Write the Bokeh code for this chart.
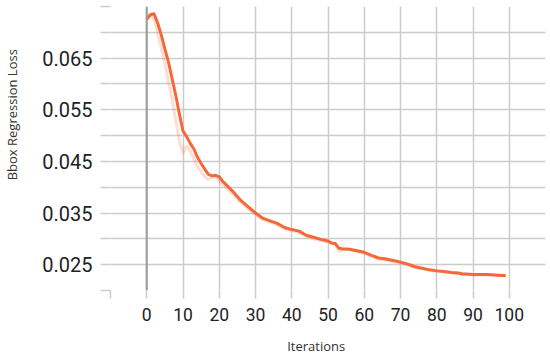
from bokeh.plotting import figure
from bokeh.models import Span, FixedTicker, Range1d
from bokeh.embed import file_html
from bokeh.resources import INLINE

# Smoothed loss curve
iters = [0, 1, 2, 3, 4, 5, 6, 7, 8, 9, 10, 11, 12, 13, 14, 15, 16, 17, 18, 19, 20,
         21, 22, 24, 26, 28, 30, 32, 34, 36, 38, 40, 42, 44, 46, 48, 50, 51, 52, 53,
         54, 56, 58, 60, 62, 64, 66, 68, 70, 72, 74, 76, 78, 80, 82, 84, 86, 87, 88,
         90, 92, 94, 96, 98, 99]
loss_smooth = [0.0725, 0.0734, 0.0736, 0.0718, 0.0695, 0.0668, 0.0642, 0.0610, 0.0578,
               0.0542, 0.0509, 0.0498, 0.0485, 0.0474, 0.0458, 0.0446, 0.0435, 0.0425,
               0.0422, 0.0423, 0.0420, 0.0411, 0.0404, 0.0390, 0.0374, 0.0362, 0.0350,
               0.0340, 0.0335, 0.0330, 0.0322, 0.0318, 0.0315, 0.0307, 0.0303, 0.0299,
               0.0296, 0.0292, 0.0291, 0.0282, 0.0281, 0.0280, 0.0277, 0.0274, 0.0268,
               0.0263, 0.0261, 0.0258, 0.0255, 0.0251, 0.0246, 0.0243, 0.0240, 0.0238,
               0.0237, 0.0235, 0.0234, 0.0232, 0.0232, 0.0231, 0.0231, 0.0231, 0.0230,
               0.0229, 0.0229]

# Raw (faint) loss curve
iters_raw = [0, 1, 2, 3, 4, 5, 6, 7, 8, 9, 10, 11, 12, 13, 14, 15, 16, 17, 18, 19, 20,
             22, 24, 26, 28, 30, 32, 34, 36, 38, 40, 42, 44, 46, 48, 50, 52, 53, 54, 56,
             58, 60, 62, 64, 66, 68, 70, 74, 78, 82, 86, 90, 94, 98, 99]
loss_raw = [0.0725, 0.0735, 0.0725, 0.0700, 0.0670, 0.0640, 0.0605, 0.0570, 0.0530,
            0.0490, 0.0465, 0.0480, 0.0470, 0.0455, 0.0440, 0.0430, 0.0420, 0.0415,
            0.0418, 0.0420, 0.0412, 0.0398, 0.0385, 0.0370, 0.0358, 0.0347, 0.0337,
            0.0333, 0.0327, 0.0320, 0.0316, 0.0313, 0.0305, 0.0300, 0.0297, 0.0294,
            0.0289, 0.0275, 0.0279, 0.0279, 0.0275, 0.0272, 0.0266, 0.0261, 0.0259,
            0.0256, 0.0253, 0.0245, 0.0239, 0.0236, 0.0233, 0.0230, 0.0230, 0.0229,
            0.0228]

x_ticks = [-10, 0, 10, 20, 30, 40, 50, 60, 70, 80, 90, 100]
x_tick_labels = ["", "0", "10", "20", "30", "40", "50", "60", "70", "80", "90", "100"]
y_ticks = [0.02, 0.025, 0.03, 0.035, 0.04, 0.045, 0.05, 0.055, 0.06, 0.065, 0.07, 0.075]
y_tick_labels = ["", "0.025", "", "0.035", "", "0.045", "", "0.055", "", "0.065", "", ""]

x_title = "Iterations"
y_title = "Bbox Regression Loss"

ORANGE = "#f4683a"
GRID = "#cccccc"
NBSP = "\u00a0"

p = figure(width=550, height=359, output_backend="svg", toolbar_location=None,
           x_range=Range1d(-10, 110), y_range=Range1d(0.020, 0.075),
           min_border_left=110, min_border_right=5, min_border_top=6,
           min_border_bottom=69)
p.outline_line_color = None
p.background_fill_color = "white"
p.border_fill_color = "white"

# grids
p.xgrid.ticker = FixedTicker(ticks=x_ticks)
p.ygrid.ticker = FixedTicker(ticks=y_ticks)
for g in (p.xgrid, p.ygrid):
    g.grid_line_color = GRID
    g.grid_line_width = 1.5

# axes
p.xaxis.ticker = FixedTicker(ticks=x_ticks)
p.yaxis.ticker = FixedTicker(ticks=y_ticks)
p.xaxis.major_label_overrides = {t: l for t, l in zip(x_ticks, x_tick_labels)}
p.yaxis.major_label_overrides = {t: l for t, l in zip(y_ticks, y_tick_labels)}
for ax in (p.xaxis, p.yaxis):
    ax.axis_line_color = None
    ax.major_tick_line_color = GRID
    ax.major_tick_line_width = 1.5
    ax.major_tick_in = 0
    ax.minor_tick_line_color = None
    ax.major_label_text_font = "Roboto"
    ax.major_label_text_color = "#222222"
    ax.axis_label_text_font = "Open Sans"
    ax.axis_label_text_font_style = "normal"
    ax.axis_label_text_font_size = "13px"
    ax.axis_label_text_color = "#333333"
p.yaxis.major_tick_out = 10
p.yaxis.major_label_standoff = 8
p.yaxis.major_label_text_font_size = "20px"
p.yaxis.axis_label = NBSP * 20 + y_title
p.yaxis.axis_label_standoff = 18
p.xaxis.major_tick_out = 8
p.xaxis.major_label_standoff = 9
p.xaxis.major_label_text_font_size = "17.5px"
p.xaxis.axis_label = x_title + NBSP * 7
p.xaxis.axis_label_standoff = 13

# zero line
p.add_layout(Span(location=0, dimension="height", line_color="#9a9a9a", line_width=2))

# curves
p.line(iters_raw, loss_raw, line_color=ORANGE, line_alpha=0.22, line_width=3)
p.line(iters, loss_smooth, line_color=ORANGE, line_width=3, line_join="round")

open("out.html", "w").write(file_html(p, INLINE))
